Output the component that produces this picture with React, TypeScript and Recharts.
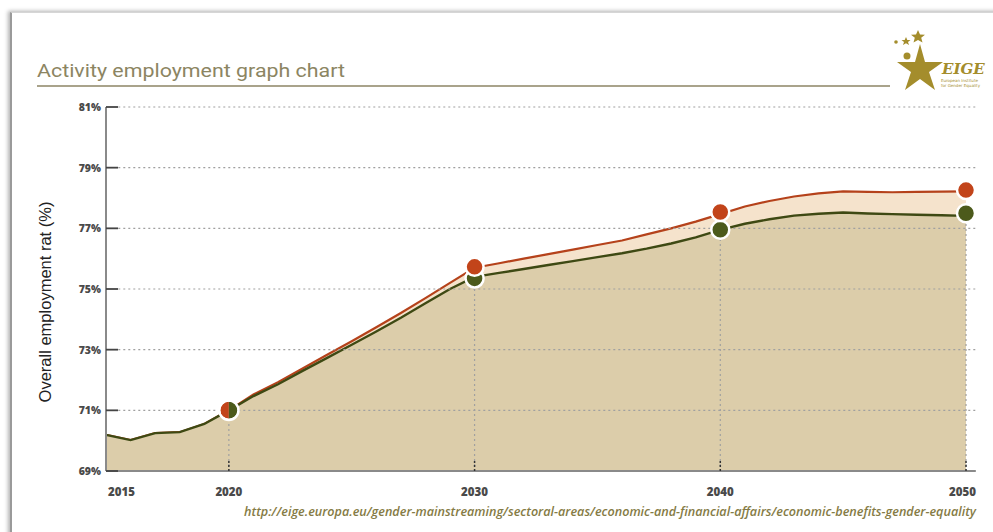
import React from 'react';
import { ComposedChart, Area, Line, XAxis, YAxis, ReferenceLine } from 'recharts';

// values (overall employment rate, %)
const years = [
  2015, 2016, 2017, 2018, 2019, 2020, 2021, 2022, 2023, 2024, 2025, 2026,
  2027, 2028, 2029, 2030, 2031, 2032, 2033, 2034, 2035, 2036, 2037, 2038,
  2039, 2040, 2041, 2042, 2043, 2044, 2045, 2046, 2047, 2048, 2049, 2050,
];
const baseline = [
  70.19, 70.02, 70.25, 70.28, 70.55, 71.0, 71.47, 71.86, 72.3, 72.73, 73.16, 73.6,
  74.05, 74.53, 75.0, 75.4, 75.53, 75.66, 75.79, 75.92, 76.05, 76.18, 76.33, 76.5,
  76.7, 76.95, 77.15, 77.3, 77.42, 77.48, 77.52, 77.49, 77.47, 77.45, 77.43, 77.41,
];
const equality = [
  70.19, 70.02, 70.25, 70.28, 70.55, 71.0, 71.52, 71.93, 72.38, 72.83, 73.28, 73.74,
  74.21, 74.7, 75.2, 75.7, 75.85, 76.0, 76.15, 76.3, 76.45, 76.6, 76.8, 77.0,
  77.22, 77.47, 77.72, 77.9, 78.05, 78.15, 78.22, 78.2, 78.19, 78.2, 78.21, 78.22,
];
const markerYears = [2020, 2030, 2040, 2050];
const baselineMarkers = [71.0, 75.35, 76.95, 77.5];
const equalityMarkers = [71.0, 75.73, 77.54, 78.26];

const xTicks = [2015, 2020, 2030, 2040, 2050];
const yTicks = [69, 71, 73, 75, 77, 79, 81];

const RED = '#c2441a';
const GREEN = '#4c5a1b';
const TICK_FONT = "'Open Sans', Lato, sans-serif";

const data = years.map((year, i) => {
  const m = markerYears.indexOf(year);
  return {
    year,
    baseline: baseline[i],
    equality: equality[i],
    baseMark: m >= 0 ? baselineMarkers[m] : null,
    eqMark: m >= 0 ? equalityMarkers[m] : null,
  };
});

const YTick = (props: any) => {
  const { x, y, payload } = props;
  return (
    <g>
      <line x1={x + 5} x2={x + 17} y1={y} y2={y} stroke="#444" strokeWidth={1.8} />
      <text x={x} y={y} dy={4} textAnchor="end" fontSize={10.5} fontWeight={800}
        fontFamily={TICK_FONT} fill="#4a4a4a">
        {payload.value}%
      </text>
    </g>
  );
};

const XTick = (props: any) => {
  const { x, y, payload } = props;
  const v = payload.value;
  const anchor = v === 2015 ? 'start' : v === 2050 ? 'end' : 'middle';
  const dx = v === 2015 ? 2 : v === 2050 ? 10 : 0;
  return (
    <g>
      {v !== 2015 && (
        <line x1={x} x2={x} y1={y - 12} y2={y} stroke="#333" strokeWidth={1.5} strokeDasharray="2 2" />
      )}
      <text x={x + dx} y={y + 23} textAnchor={anchor} fontSize={11.5} fontWeight={800}
        fontFamily={TICK_FONT} fill="#4a4a4a">
        {v}
      </text>
    </g>
  );
};

const BaseDot = (props: any) => {
  const { cx, cy, payload } = props;
  if (payload.baseMark == null || cx == null || cy == null) return <g key={`bd-${payload.year}`} />;
  if (payload.year === 2020) {
    const r = 8.5;
    return (
      <g key={`bd-${payload.year}`}>
        <circle cx={cx} cy={cy} r={r + 1.3} fill="#fff" />
        <path d={`M${cx},${cy - r} A${r},${r} 0 0,0 ${cx},${cy + r} Z`} fill={RED} />
        <path d={`M${cx},${cy - r} A${r},${r} 0 0,1 ${cx},${cy + r} Z`} fill={GREEN} />
        <circle cx={cx} cy={cy} r={r + 1.2} fill="none" stroke="#fff" strokeWidth={2.4} />
      </g>
    );
  }
  return (
    <circle key={`bd-${payload.year}`} cx={cx} cy={cy} r={9} fill={GREEN} stroke="#fff" strokeWidth={2.5} />
  );
};

const EqDot = (props: any) => {
  const { cx, cy, payload } = props;
  if (payload.eqMark == null || payload.year === 2020 || cx == null || cy == null)
    return <g key={`ed-${payload.year}`} />;
  return (
    <circle key={`ed-${payload.year}`} cx={cx} cy={cy} r={9} fill={RED} stroke="#fff" strokeWidth={2.5} />
  );
};

const Logo = () => (
  <g fill="#a48d2c">
    <circle cx={896} cy={42} r={1.8} />
    <polygon points="906,37 907.3,40 910.5,40 908,42 909,45 906,43.2 903,45 904,42 901.5,40 904.7,40" />
    <polygon points="918,30 920,34.6 925,34.8 921.2,37.8 922.5,42.6 918,39.9 913.5,42.6 914.8,37.8 911,34.8 916,34.6" />
    <polygon points="920,44 925,62 943,62 929,72 935,90 920,79 905,90 911,72 897,62 915,62" />
    <circle cx={907} cy={56} r={3.5} />
    <text x={942} y={74} fontSize={15} fontStyle="italic" fontWeight={700}
      fontFamily="'DejaVu Serif', serif" fill="#a48d2c">EIGE</text>
    <text x={941} y={82} fontSize={4} fontFamily="'DejaVu Sans', sans-serif" fill="#a48d2c">European Institute</text>
    <text x={941} y={87} fontSize={4} fontFamily="'DejaVu Sans', sans-serif" fill="#a48d2c">for Gender Equality</text>
  </g>
);

export default function App() {
  return (
    <div style={{ position: 'fixed', left: 0, top: 0, width: 993, height: 532, background: '#fff', overflow: 'hidden' }}>
      <div style={{
        position: 'absolute', left: 10, top: 12, width: 990, height: 530,
        borderTop: '1px solid #d6d6d6', borderLeft: '2px solid #9a9a9a',
        boxShadow: '-2px -1px 4px rgba(0,0,0,0.3)', background: '#fff',
      }} />
      <div style={{ position: 'absolute', left: 0, top: 0 }}>
        <ComposedChart width={993} height={532} data={data}
          margin={{ top: 107, right: 27, bottom: 31, left: 66 }}>
          <XAxis dataKey="year" type="number" domain={[2015, 2050]} ticks={xTicks}
            height={30} tickSize={0} tickLine={false}
            axisLine={{ stroke: '#8a8a8a', strokeWidth: 2 }} tick={<XTick />} />
          <YAxis type="number" domain={[69, 81]} ticks={yTicks} width={40}
            tickSize={0} tickMargin={5} tickLine={false}
            axisLine={{ stroke: '#8a8a8a', strokeWidth: 2 }} tick={<YTick />} />
          <Area type="linear" dataKey="equality" baseValue={69} stroke="#b5421b" strokeWidth={2.2}
            fill="#f5e3cc" fillOpacity={1} dot={false} activeDot={false} isAnimationActive={false} />
          <Area type="linear" dataKey="baseline" baseValue={69} stroke="#3e4913" strokeWidth={2.4}
            fill="#dccdaa" fillOpacity={1} dot={false} activeDot={false} isAnimationActive={false} />
          {yTicks.filter((t) => t > 69).map((t) => (
            <ReferenceLine key={`h-${t}`} ifOverflow="visible"
              segment={[{ x: 2015.5, y: t }, { x: 2050.4, y: t }]}
              stroke="#a0a0a0" strokeWidth={1.2} strokeDasharray="2 3" />
          ))}
          {markerYears.map((yr, i) => (
            <ReferenceLine key={`v-${yr}`} ifOverflow="visible"
              segment={[{ x: yr, y: 69 }, { x: yr, y: baselineMarkers[i] }]}
              stroke="#a0a0a0" strokeWidth={1.2} strokeDasharray="2 3" />
          ))}
          <ReferenceLine ifOverflow="visible" segment={[{ x: 2050, y: 69 }, { x: 2050.4, y: 69 }]}
            stroke="#8a8a8a" strokeWidth={2} />
          <Line type="linear" dataKey="baseMark" stroke="none" dot={<BaseDot />} activeDot={false}
            isAnimationActive={false} />
          <Line type="linear" dataKey="eqMark" stroke="none" dot={<EqDot />} activeDot={false}
            isAnimationActive={false} />
        </ComposedChart>
      </div>
      <svg width={993} height={532} style={{ position: 'absolute', left: 0, top: 0, pointerEvents: 'none' }}>
        <text x={37} y={77} fontSize={18} fontFamily="Roboto, sans-serif" fill="#8c8562"
          textLength={308} lengthAdjust="spacingAndGlyphs">
          Activity employment graph chart
        </text>
        <line x1={37} x2={890} y1={86} y2={86} stroke="#8c8465" strokeWidth={1.6} />
        <text transform="translate(51,302) rotate(-90)" textAnchor="middle" fontSize={16.5}
          fontFamily="'Liberation Sans Narrow', 'Liberation Sans', sans-serif" fill="#222">
          Overall employment rat (%)
        </text>
        <text x={976} y={516} textAnchor="end" fontSize={12.6} fontStyle="italic" fontWeight={600}
          fontFamily="'Open Sans', sans-serif" fill="#857b45">
          http://eige.europa.eu/gender-mainstreaming/sectoral-areas/economic-and-financial-affairs/economic-benefits-gender-equality
        </text>
        <Logo />
      </svg>
    </div>
  );
}
